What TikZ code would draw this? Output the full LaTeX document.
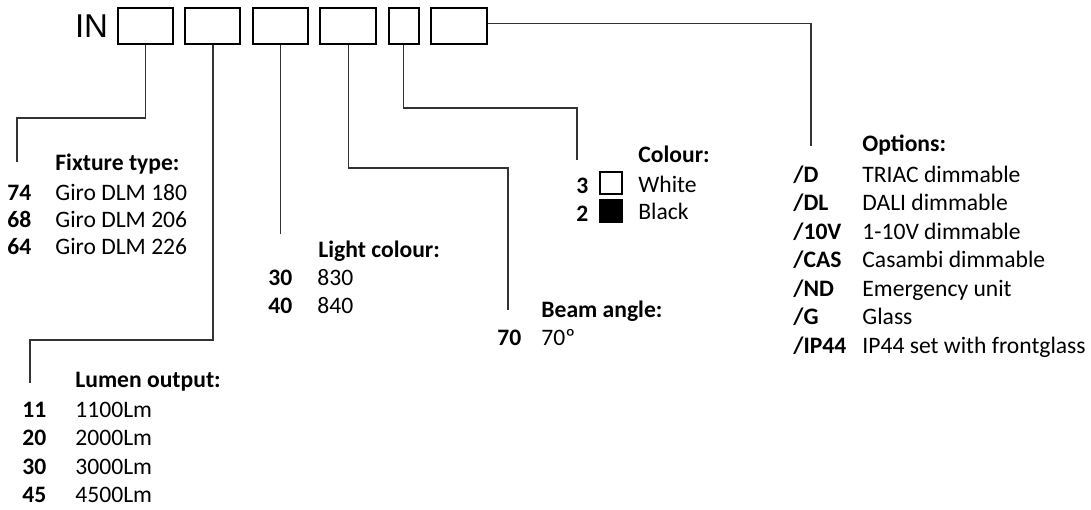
\documentclass[tikz,border=0pt]{standalone}
\usepackage{fontspec}
\setmainfont{Carlito}
\newfontfamily\infont{Liberation Sans}
\usetikzlibrary{positioning}

\begin{document}
\begin{tikzpicture}[x=0.5pt,y=-0.5pt,
		every node/.style={inner sep=0pt},
		codebox/.style={draw,line width=1pt,minimum width=27.5pt,minimum height=18pt},
		lead/.style={line width=0.6pt,black!80},
		txt/.style={anchor=base west,font=\fontsize{11.8}{13}\selectfont},
		bold/.style={anchor=base west,font=\fontsize{11.8}{13}\selectfont\bfseries}]
		
		\useasboundingbox (0,0) rectangle (1091,509);
		
		% code boxes
		\node[codebox] (b1) at (145.5,26) {};
		\node[codebox,right=5.2pt of b1] (b2) {};
		\node[codebox,right=5.2pt of b2] (b3) {};
		\node[codebox,right=5.2pt of b3,minimum width=28pt] (b4) {};
		\node[codebox,right=5.2pt of b4,minimum width=15pt] (b5) {};
		\node[codebox,right=5.2pt of b5,minimum width=28pt] (b6) {};
		\node[left=4.3pt of b1,font=\infont\fontsize{16.5}{16.5}\selectfont] (in) {IN};
		
		% leads
		\coordinate (fixend) at (17,162);
		\coordinate (lumend) at (30,383);
		\coordinate (beamend) at (508,310);
		\coordinate (colend) at (577,160);
		\coordinate (optend) at (811,146);
		\draw[lead] (b1.south) -- ++(0,73) -| (fixend);
		\draw[lead] (b2.south) -- ++(0,295) -| (lumend);
		\draw[lead] (b3.south) -- ++(0,189) coordinate (lcend);
		\draw[lead] (b4.south) -- ++(0,123) -| (beamend);
		\draw[lead] (b5.south) -- ++(0,63) -| (colend);
		\draw[lead] ([yshift=1.25pt]b6.east) -| (optend);
		
		% fixture type
		\node[bold] (fixhead) at (55,170) {Fixture type:};
		\node[bold] (fix74) at (7,200) {74};
		\node[txt] (fix74t) at (55,200) {Giro DLM 180};
		\node[bold] (fix68) at (7,227) {68};
		\node[txt] (fix68t) at (55,227) {Giro DLM 206};
		\node[bold] (fix64) at (7,254) {64};
		\node[txt] (fix64t) at (55,254) {Giro DLM 226};
		
		% lumen output
		\node[bold] (lumhead) at (75,387) {Lumen output:};
		\node[bold] (lum11) at (22,417) {11};
		\node[txt] (lum11t) at (75,417) {1100Lm};
		\node[bold] (lum20) at (22,445.5) {20};
		\node[txt] (lum20t) at (75,445.5) {2000Lm};
		\node[bold] (lum30) at (22,474) {30};
		\node[txt] (lum30t) at (75,474) {3000Lm};
		\node[bold] (lum45) at (22,502.5) {45};
		\node[txt] (lum45t) at (75,502.5) {4500Lm};
		
		% light colour
		\node[bold] (lchead) at (318,257) {Light colour:};
		\node[bold] (lc30) at (268,285) {30};
		\node[txt] (lc30t) at (317,285) {830};
		\node[bold] (lc40) at (268,313) {40};
		\node[txt] (lc40t) at (317,313) {840};
		
		% beam angle
		\node[bold] (beamhead) at (541,317) {Beam angle:};
		\node[bold] (beam70) at (497,345) {70};
		\node[txt] (beam70t) at (541,345) {70º};
		
		% colour
		\node[bold] (colhead) at (638,162) {Colour:};
		\node[bold] (col3) at (576,193) {3};
		\node[draw,line width=1pt,minimum size=11pt] (white) at (611,183) {};
		\node[txt] (col3t) at (638,192) {White};
		\node[bold] (col2) at (576,221.5) {2};
		\node[draw,fill=black,line width=1pt,minimum size=11pt] (black) at (611,210.5) {};
		\node[txt] (col2t) at (638,219.5) {Black};
		
		% options
		\node[bold] (opthead) at (862,151) {Options:};
		\node[bold] (optd) at (793,182) {/D};
		\node[txt] (optdt) at (862,182) {TRIAC dimmable};
		\node[bold] (optdl) at (793,210.5) {/DL};
		\node[txt] (optdlt) at (862,210.5) {DALI dimmable};
		\node[bold] (opt10v) at (793,239) {/10V};
		\node[txt] (opt10vt) at (862,239) {1-10V dimmable};
		\node[bold] (optcas) at (793,267.5) {/CAS};
		\node[txt] (optcast) at (862,267.5) {Casambi dimmable};
		\node[bold] (optnd) at (793,296) {/ND};
		\node[txt] (optndt) at (862,296) {Emergency unit};
		\node[bold] (optg) at (793,324.5) {/G};
		\node[txt] (optgt) at (862,324.5) {Glass};
		\node[bold] (optip) at (793,353) {/IP44};
		\node[txt] (optipt) at (862,353) {IP44 set with frontglass};
\end{tikzpicture}
\end{document}
